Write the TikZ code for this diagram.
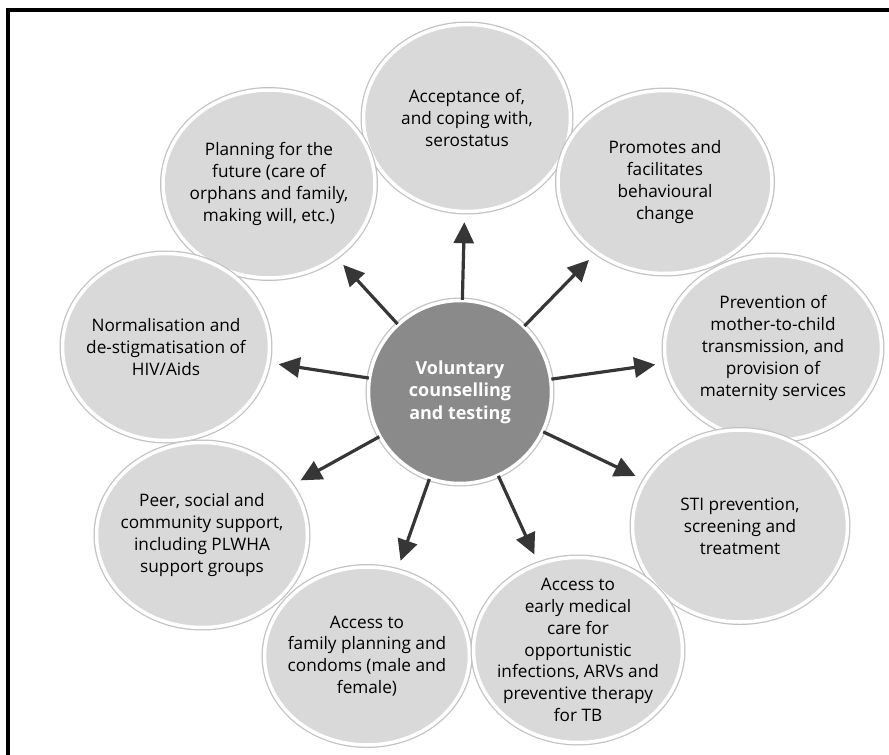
\documentclass[tikz,border=0pt]{standalone}
\usepackage{fontspec}
\setmainfont{Open Sans}
\usetikzlibrary{shapes.geometric,arrows.meta}
\definecolor{bubblefill}{HTML}{D9D9D9}
\definecolor{hubfill}{HTML}{8A8A8A}
\definecolor{arrowgray}{HTML}{363636}
\definecolor{rimgray}{HTML}{C2C2C2}
\begin{document}
\begin{tikzpicture}[x=1pt,y=-1pt,
  bubble/.style={ellipse, fill=bubblefill, draw=white, line width=3.5pt,
    preaction={draw=rimgray, line width=6pt},
    inner sep=-32pt, align=center, text=black,
    font=\fontsize{17.2}{21.8}\selectfont},
  hubnode/.style={circle, fill=hubfill, draw=white, line width=3.5pt,
    preaction={draw=rimgray, line width=6pt},
    minimum size=183pt, inner sep=-20pt, align=center, text=white,
    font=\bfseries\fontsize{18}{22.5}\selectfont},
  link/.style={-{Triangle[length=21pt,width=20pt]}, line width=3.2pt,
    draw=arrowgray, fill=arrowgray, shorten >=9pt, shorten <=-1pt},
  framing/.style={line width=4pt, black}]
\useasboundingbox (0,0) rectangle (889,755);
\fill[white] (0,0) rectangle (889,755);
\draw[framing] (8,755) -- (8,10) -- (889,10);

\node[bubble, minimum width=207pt, minimum height=187pt] (acc) at (467,118)
  {Acceptance of,\\and coping with,\\serostatus};
\node[bubble, minimum width=212pt, minimum height=188pt] (plan) at (269,184)
  {Planning for the\\future (care of\\orphans and family,\\making will, etc.)};
\node[bubble, minimum width=214pt, minimum height=183pt] (prom) at (665,182)
  {Promotes and\\facilitates\\behavioural\\change};
\node[bubble, minimum width=207pt, minimum height=187pt] (norm) at (166,347)
  {Normalisation and\\de-stigmatisation of\\HIV/Aids};
\node[bubble, minimum width=217pt, minimum height=185pt] (prev) at (773,348)
  {Prevention of\\mother-to-child\\transmission, and\\provision of\\maternity services};
\node[bubble, minimum width=211pt, minimum height=185pt] (peer) at (202,535)
  {Peer, social and\\community support,\\including PLWHA\\support groups};
\node[bubble, minimum width=215pt, minimum height=192pt] (sti) at (740,526)
  {STI prevention,\\screening and\\treatment};
\node[bubble, minimum width=205pt, minimum height=178pt] (fam) at (367,656)
  {Access to\\family planning and\\condoms (male and\\female)};
\node[bubble, minimum width=209pt, minimum height=185pt] (early) at (578,650)
  {Access to\\early medical\\care for\\opportunistic\\infections, ARVs and\\preventive therapy\\for TB};

\node[hubnode] (hub) at (460,392) {Voluntary\\counselling\\and testing};

\foreach \t in {acc,plan,prom,norm,prev,peer,sti,fam,early}
  \draw[link] (hub) -- (\t);
\end{tikzpicture}
\end{document}
